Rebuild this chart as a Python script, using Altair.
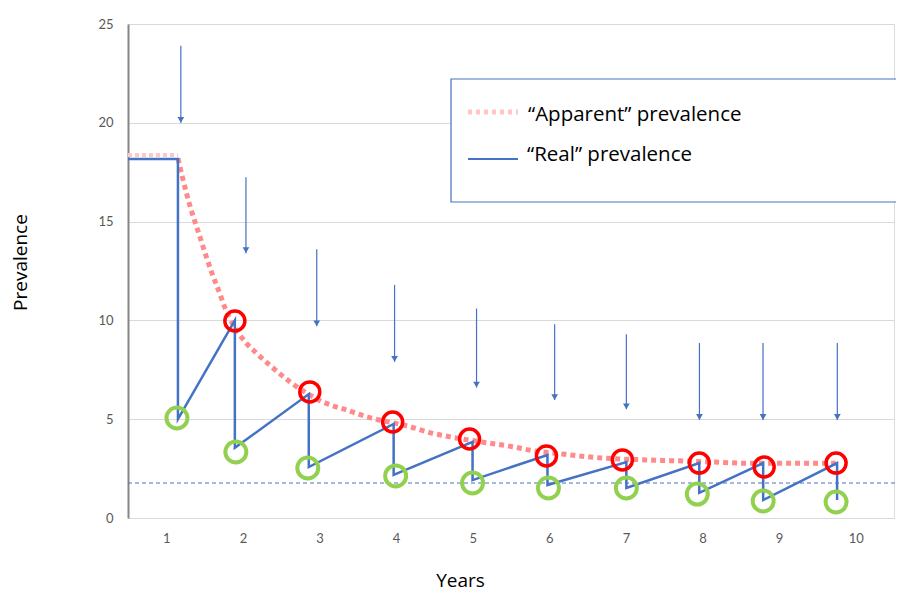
import altair as alt
import pandas as pd

# ---------------- data ----------------
years = [1, 2, 3, 4, 5, 6, 7, 8, 9, 10]
y_ticks = [0, 5, 10, 15, 20, 25]

# "Real" prevalence: saw-tooth path
real_x = [0.5, 1.152, 1.152, 1.895, 1.895, 2.860, 2.860, 3.968, 3.968, 4.998, 4.998,
          5.976, 5.976, 7.006, 7.006, 7.958, 7.958, 8.792, 8.792, 9.757, 9.757]
real_y = [18.17, 18.17, 5.0, 10.0, 3.55, 6.27, 2.58, 4.76, 2.18, 3.85, 1.92,
          3.19, 1.67, 2.83, 1.52, 2.78, 1.27, 2.78, 0.91, 2.78, 0.91]

# "Apparent" prevalence: flat start + decaying curve
apparent_flat_x = [0.5, 1.152]
apparent_flat_y = [18.37, 18.37]
apparent_x = [1.152, 1.269, 1.452, 1.595, 1.70, 1.743, 2.047, 2.156, 2.373, 2.612,
              3.09, 3.35, 3.61, 4.18, 4.44, 4.70, 5.18, 5.52, 5.78, 6.17, 6.39,
              6.75, 7.27, 7.61, 8.22, 8.57, 9.22, 9.74]
apparent_y = [18.2, 16.35, 14.07, 12.4, 11.34, 10.87, 8.84, 8.42, 7.66, 6.90,
              5.80, 5.47, 5.13, 4.62, 4.32, 4.11, 3.81, 3.61, 3.41, 3.24, 3.14,
              3.02, 2.94, 2.90, 2.82, 2.77, 2.77, 2.77]

# red circles (peaks) and green circles (troughs)
red_x = [1.895, 2.873, 3.955, 4.959, 5.963, 6.954, 7.958, 8.805, 9.744]
red_y = [9.97, 6.38, 4.86, 4.00, 3.14, 2.94, 2.78, 2.58, 2.78]
green_x = [1.139, 1.908, 2.847, 3.994, 4.998, 5.989, 7.006, 7.932, 8.792, 9.744]
green_y = [5.06, 3.34, 2.53, 2.13, 1.77, 1.52, 1.52, 1.21, 0.86, 0.81]

# downward arrows
arrow_x = [1.19, 2.04, 2.964, 3.98, 5.05, 6.07, 7.006, 7.96, 8.79, 9.76]
arrow_top = [23.9, 17.25, 13.6, 11.8, 10.6, 9.8, 9.3, 8.86, 8.86, 8.86]
arrow_tip = [20.0, 13.4, 9.7, 7.9, 6.6, 5.97, 5.5, 4.96, 4.96, 4.96]

# dashed reference level
threshold = [1.77]

legend_labels = ["\u201cApparent\u201d prevalence", "\u201cReal\u201d prevalence"]

# ---------------- tables ----------------
real_df = pd.DataFrame({"x": real_x, "y": real_y, "o": list(range(len(real_x)))})
flat_df = pd.DataFrame({"x": apparent_flat_x, "y": apparent_flat_y})
app_df = pd.DataFrame({"x": apparent_x, "y": apparent_y, "o": list(range(len(apparent_x)))})
red_df = pd.DataFrame({"x": red_x, "y": red_y})
green_df = pd.DataFrame({"x": green_x, "y": green_y})
arrow_df = pd.DataFrame({"x": arrow_x, "y": arrow_top, "y2": arrow_tip})
thr_df = pd.DataFrame({"x": [0.5], "y": threshold})
one = pd.DataFrame({"a": [0]})

FONT = "Lato"
TFONT = "Open Sans"
BLUE = "#4472C4"

X = alt.X("x:Q", scale=alt.Scale(domain=[0.5, 10.5], nice=False, zero=False),
          axis=alt.Axis(values=years, grid=False, domain=False, ticks=False,
                        labelPadding=14, labelColor="#595959", labelFontSize=13,
                        labelFont=FONT, title="Years", titleFont=TFONT,
                        titleFontSize=19, titleFontWeight="normal", titleColor="#000000",
                        titleX=332, titleY=68, titleAlign="center",
                        titleBaseline="alphabetic"))
Y = alt.Y("y:Q", scale=alt.Scale(domain=[0, 25], nice=False),
          axis=alt.Axis(values=y_ticks, grid=True, gridColor="#D9D9D9", gridWidth=1,
                        domain=True, domainColor="#868686", domainWidth=2, ticks=False,
                        labelPadding=15, labelColor="#595959", labelFontSize=13,
                        labelFont=FONT, title="Prevalence", titleFont=TFONT,
                        titleFontSize=19, titleFontWeight="normal", titleColor="#000000",
                        titleX=-108, titleY=238, titleAngle=270, titleAlign="center",
                        titleBaseline="middle"))

thr = alt.Chart(thr_df).mark_rule(color=BLUE, strokeWidth=1, strokeDash=[4, 3]).encode(
    x=X, x2=alt.value(790), y=Y)

flat = alt.Chart(flat_df).mark_line(color="#ffc6c6", strokeWidth=4, strokeDash=[4, 3]).encode(x=X, y=Y)

apparent = alt.Chart(app_df).mark_line(color="#ff8a8a", strokeWidth=5, strokeDash=[5, 4],
                                       interpolate="monotone").encode(x=X, y=Y, order="o:Q")

real = alt.Chart(real_df).mark_line(color=BLUE, strokeWidth=2.5).encode(x=X, y=Y, order="o:Q")

arrows = alt.Chart(arrow_df).mark_rule(color=BLUE, strokeWidth=1.2).encode(
    x=X, y=Y, y2=alt.Y2("y2:Q"))
heads = alt.Chart(arrow_df).mark_point(shape="triangle-down", filled=True, color=BLUE,
                                       size=45, opacity=1, yOffset=-3).encode(
    x=X, y=alt.Y("y2:Q", scale=alt.Scale(domain=[0, 25], nice=False)))

red = alt.Chart(red_df).mark_point(shape="circle", filled=False, color="#FF0000",
                                   strokeWidth=3.5, size=400, opacity=1).encode(x=X, y=Y)
green = alt.Chart(green_df).mark_point(shape="circle", filled=False, color="#92D050",
                                       strokeWidth=4, size=440, opacity=1).encode(x=X, y=Y)

# legend box (decoration)
box = alt.Chart(one).mark_rect(fill="white", stroke=BLUE, strokeWidth=1.2).encode(
    x=alt.value(323), x2=alt.value(800), y=alt.value(55), y2=alt.value(178))
leg_app = alt.Chart(one).mark_rule(color="#ffc6c6", strokeWidth=5, strokeDash=[4, 4]).encode(
    x=alt.value(340), x2=alt.value(390), y=alt.value(88))
leg_real = alt.Chart(one).mark_rule(color=BLUE, strokeWidth=2).encode(
    x=alt.value(340), x2=alt.value(390), y=alt.value(135))
leg_t1 = alt.Chart(one).mark_text(text=legend_labels[0], font=TFONT, fontSize=20.5, color="#000000",
                                  align="left", baseline="alphabetic").encode(
    x=alt.value(400), y=alt.value(97))
leg_t2 = alt.Chart(one).mark_text(text=legend_labels[1], font=TFONT, fontSize=20.5, color="#000000",
                                  align="left", baseline="alphabetic").encode(
    x=alt.value(399), y=alt.value(137))

chart = alt.layer(thr, arrows, heads, flat, apparent, real, red, green,
                  box, leg_app, leg_real, leg_t1, leg_t2).properties(
    width=766, height=494,
    autosize=alt.AutoSizeParams(type="none"),
    padding={"left": 120, "top": 16, "right": 2, "bottom": 75},
).configure_view(stroke=None).configure(background="white")

chart.save("out.html", embed_options={"renderer": "svg", "actions": False})
